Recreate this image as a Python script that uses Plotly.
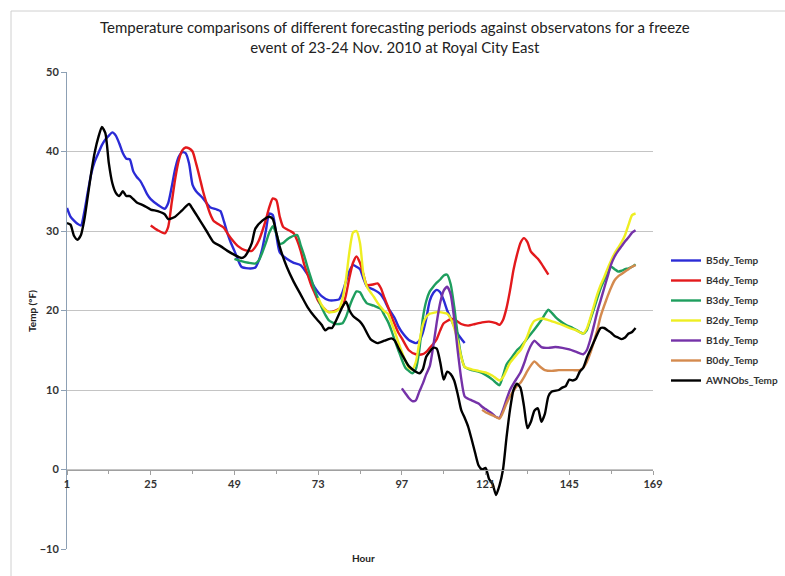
import plotly.graph_objects as go

# ---------------- data (hour, temperature °F) ----------------
b5_hours = [1,2,3,4,5,6,7,8,9,10,11,12,13,14,15,16,17,18,19,20,21,22,23,24,25,27,29,30,31,32,33,34,35,36,37,38,40,42,44,45,46,47,48,49,50,51,53,55,56,57,58,59,60,61,62,64,66,68,70,72,74,76,78,79,80,81,82,83,84,85,86,87,89,91,92,93,95,96,97,99,101,102,103,104,105,106,107,108,109,110,111,113,115]
b5_temps = [32.9,31.8,31.3,30.9,30.7,32.5,35,37.3,38.8,39.8,40.8,41.5,42,42.4,42,41,39.8,39.1,39,37.5,36.8,36.3,35.5,34.6,34,33.3,32.8,33.5,35.5,37.8,39.3,39.9,39.8,38.5,35.8,35,34.1,33,32.7,32.5,31.2,29.7,28.5,27.5,26.4,25.5,25.3,25.4,26.3,27.8,30,32.2,32,29.5,27.3,26.5,26,25.7,24.5,22.9,21.8,21.3,21.3,21.4,22.3,23.7,25,25.7,25.5,25.2,24,23,22.6,22,21.3,20.4,19,18,17.3,16.3,15.9,16.2,17.2,19,21.2,22.2,22.6,22.3,21.3,20,19,17.1,15.9]

b4_hours = [25,27,29,30,31,32,33,34,35,36,37,38,39,40,41,42,43,45,46,47,48,50,52,54,55,56,57,58,59,60,61,62,63,65,66,67,68,69,70,71,72,73,74,76,78,80,81,82,83,84,85,86,87,89,90,91,92,93,94,95,96,97,99,101,103,104,105,106,107,108,109,111,112,114,116,118,120,122,124,125,126,127,128,129,130,131,132,133,134,136,137,138,139]
b4_temps = [30.7,30.1,29.7,30.5,33.5,36.5,38.8,40.1,40.5,40.4,40,38.5,36.8,35,33.5,32.2,31.3,30.7,30.4,29.7,29.1,28.1,27.6,27.5,28,28.8,30,31.4,33,34.1,33.9,31.8,30.5,30,29.7,28.8,27.5,25.8,24.5,23.2,22.2,21.2,20.6,19.8,20,20.5,22,24.2,26,26.8,26,24.5,23.2,23.3,23.4,22.8,21.6,20.5,19.3,18.2,17.2,16.5,15,14.5,14.5,14.8,15.3,15.8,16.4,17.5,18.4,18.9,18.9,18.3,18.1,18.3,18.5,18.6,18.4,18.2,18.8,20.3,22.5,25.1,27,28.5,29.1,28.6,27.4,26.5,25.9,25.2,24.5]

b3_hours = [49,51,53,55,56,57,58,59,60,61,62,63,64,65,67,68,69,70,71,72,73,74,75,76,78,80,81,82,83,84,85,86,87,89,91,92,93,94,95,96,97,98,99,100,101,102,103,104,105,106,107,108,109,110,111,112,113,114,115,117,119,121,123,124,125,126,127,128,129,130,131,133,135,137,139,140,141,142,144,146,148,149,150,151,152,153,154,155,156,157,158,159,160,161,162,163,164]
b3_temps = [26.5,26.2,26,25.9,26.3,27.3,28.5,29.8,30.6,29.7,28.4,28.5,28.9,29.2,29.5,28.2,26.9,25.4,24,22.6,21.5,20.4,19.5,18.8,18.3,18.4,19.2,20.5,21.6,22.4,22.3,21.5,20.9,20.6,20.2,19.4,18.6,17.5,16.2,15,13.8,12.8,12.4,12.1,12.6,15,19,21.2,22.4,23,23.5,23.9,24.4,24.5,23.3,20.5,17,14.3,12.9,12.5,12.3,11.9,11.3,10.9,10.6,11.8,13.2,13.8,14.4,15,15.4,16.5,17.6,18.8,20.1,19.7,19.2,18.8,18.2,17.8,17.3,17.1,17.5,18.8,20.1,21.5,22.8,23.8,24.7,25.5,25.2,24.9,25,25.2,25.3,25.5,25.8]

b2_hours = [73,74,75,76,77,78,79,80,81,82,83,84,85,86,87,88,89,90,91,92,93,94,95,96,97,98,99,100,101,102,103,104,105,106,107,108,109,110,111,112,113,114,115,117,119,121,123,125,126,127,128,130,131,133,134,135,137,139,141,143,145,147,149,150,151,152,153,154,155,156,157,158,159,160,161,162,163,164]
b2_temps = [21.6,20.7,20.1,19.8,19.8,19.9,20.2,21.5,24,27.5,29.8,30,28.5,24.5,23,22.3,21.7,21,20.4,19.9,19.6,18.5,17.3,16,14.8,13.7,12.8,12.6,13.5,16,18.2,19.2,19.6,19.7,19.8,19.8,19.7,19.6,19,17.8,16.2,14.2,12.9,12.6,12.4,12.2,11.8,11.2,11.6,12.5,13.4,14.5,15,16.8,18,18.7,19,18.8,18.5,18.2,17.8,17.5,17.1,17.7,19,20.5,22,23.2,24.2,25.3,26.3,27.2,27.9,28.6,29.5,30.8,32,32.2]

b1_hours = [97,98,99,100,101,102,103,104,105,106,107,108,109,110,111,112,113,114,115,116,117,118,119,120,121,122,123,124,125,126,127,128,129,130,131,132,133,134,135,136,137,139,141,143,145,147,149,150,151,152,153,154,155,156,157,158,159,160,161,162,163,164]
b1_temps = [10.2,9.6,9,8.6,8.7,9.8,10.8,12,13,15.5,18.5,21,22.5,23,22,19,15,11.5,9.2,8.9,8.7,8.5,8.3,7.9,7.6,7.3,7,6.6,6.5,7.5,8.8,10,10.8,11.5,12.2,13.3,14.6,15.6,16.2,15.8,15.4,15.3,15.4,15.3,15.1,14.8,14.5,15,16.3,18,19.8,21.3,22.8,24.3,25.8,26.8,27.5,28.1,28.7,29.2,29.8,30.1]

b0_hours = [120,121,122,123,124,125,126,127,128,129,130,131,132,133,134,135,136,137,138,140,142,144,146,148,149,150,151,152,153,154,155,156,157,158,159,160,161,162,163,164]
b0_temps = [7.5,7.2,7,6.8,6.6,6.4,7.2,8.3,9.2,9.9,10.5,10.9,11.6,12.4,13.1,13.6,13.2,12.8,12.5,12.4,12.5,12.5,12.5,12.5,12.8,13.5,14.6,16,17.5,19.3,20.6,21.8,22.9,23.8,24.3,24.6,24.9,25.2,25.5,25.7]

obs_hours = [1,2,3,4,5,6,7,8,9,10,11,12,13,14,15,16,17,18,19,21,23,25,27,29,30,32,34,36,37,39,41,43,45,47,49,51,52,53,54,55,57,59,60,61,62,64,66,68,70,72,74,75,76,77,78,80,81,82,83,85,86,88,90,92,94,95,96,97,99,101,102,103,104,106,107,108,109,110,111,112,113,114,115,116,117,118,119,120,121,122,123,124,125,126,127,128,129,130,131,132,133,134,135,136,137,138,139,140,142,143,144,145,146,147,148,149,150,151,152,153,154,155,156,157,158,159,160,161,162,163,164]
obs_temps = [31,30.8,29.4,28.9,29.5,31.5,34.5,37.5,40,41.8,43.1,42.3,38.5,36,34.8,34.4,35,34.4,34.4,33.6,33.2,32.7,32.5,32.1,31.5,31.8,32.6,33.4,32.8,31.4,30,28.6,28.1,27.5,27,26.6,26.8,27.5,28.5,30.3,31.3,31.8,31.5,29.8,28,25.5,23.6,22,20.4,19.2,18.2,17.5,17.8,17.8,18.6,20.5,21.1,20,19.3,18.6,18,16.4,15.9,16.2,16.5,16.2,15.3,14.5,13,12.3,12.1,12.6,14.2,15.3,15.2,13.5,11.3,12.3,12,11.2,9.5,7.5,6.5,5.4,3.8,2.1,0.5,0,0.2,-1.2,-1.8,-3.2,-2,0,4,7.5,10,10.8,10.3,8,5.2,6,7.4,7.7,6,7,9.2,9.8,10,10.3,10.5,11.3,11.2,11.4,12.3,12.8,14,15,16,17,17.8,17.8,17.5,17.2,16.8,16.6,16.4,16.6,17.1,17.3,17.8]

series_names = ["B5dy_Temp", "B4dy_Temp", "B3dy_Temp", "B2dy_Temp", "B1dy_Temp", "B0dy_Temp", "AWNObs_Temp"]
series_hours = [b5_hours, b4_hours, b3_hours, b2_hours, b1_hours, b0_hours, obs_hours]
series_temps = [b5_temps, b4_temps, b3_temps, b2_temps, b1_temps, b0_temps, obs_temps]
series_colors = ["#2B2BD6", "#E3191C", "#1E9E5E", "#EEEE22", "#7532A8", "#D48A4E", "#000000"]

x_ticks = [1, 25, 49, 73, 97, 121, 145, 169]
x_minor = [13, 37, 61, 85, 109, 133, 157]
y_ticks = [-10, 0, 10, 20, 30, 40, 50]

title_text = ("Temperature comparisons of different forecasting periods against observatons for a freeze"
              "<br>event of 23-24 Nov. 2010 at Royal City East")

# ---------------- figure ----------------
W, H = 785, 576
ML, MR, MT, MB = 67, 132, 72, 27
PW, PH = W - ML - MR, H - MT - MB

def px(xp):
    return (xp - ML) / PW

def py(yp):
    return 1 - (yp - MT) / PH

FONT = "Lato, 'Open Sans', sans-serif"

fig = go.Figure()
for name, hx, ty, col in zip(series_names, series_hours, series_temps, series_colors):
    fig.add_trace(go.Scatter(
        x=hx, y=ty, name=name, mode="lines", legendgroup=name,
        line=dict(color=col, width=2.4, shape="spline", smoothing=0.6),
    ))

fig.update_layout(
    width=W, height=H,
    margin=dict(l=ML, r=MR, t=MT, b=MB, pad=0, autoexpand=False),
    paper_bgcolor="white", plot_bgcolor="white",
    font=dict(family=FONT, size=11, color="#333333"),
    title=dict(text=title_text, x=0.503, xanchor="center", y=1 - 33 / H, yanchor="middle",
               yref="container", font=dict(family=FONT, size=15, color="#222222")),
    showlegend=True,
    legend=dict(x=px(666), xanchor="left", y=py(246), yanchor="top",
                font=dict(family=FONT, size=10, color="#333333", weight=700),
                bgcolor="rgba(0,0,0,0)", itemwidth=30, tracegroupgap=1),
    xaxis=dict(range=[1, 169], tickvals=x_ticks, ticktext=[str(v) for v in x_ticks],
               anchor="free", position=10 / 60, showline=True, linecolor="#A0A0A0", linewidth=1,
               ticks="outside", ticklen=4, tickcolor="#A0A0A0", showgrid=False, zeroline=False,
               minor=dict(tickvals=x_minor, ticks="outside", ticklen=3, tickcolor="#A0A0A0"),
               tickfont=dict(family=FONT, size=11, color="#333333", weight=700)),
    yaxis=dict(range=[-10, 50], tickvals=y_ticks, showgrid=True, gridcolor="#C4C4C4", gridwidth=1,
               showline=True, linecolor="#8DA0B4", linewidth=1, ticks="outside", ticklen=5,
               tickcolor="#8DA0B4", zeroline=False,
               tickfont=dict(family=FONT, size=11, color="#333333", weight=700)),
    annotations=[
        dict(text="Temp (°F)", x=px(32), y=py(311), xref="paper", yref="paper", showarrow=False,
             xanchor="center", yanchor="middle", textangle=-90,
             font=dict(family=FONT, size=10, color="#222222", weight=700)),
        dict(text="Hour", x=px(363), y=py(558), xref="paper", yref="paper", showarrow=False,
             xanchor="center", yanchor="middle",
             font=dict(family=FONT, size=10, color="#222222", weight=700)),
    ],
    shapes=[
        dict(type="path", xref="paper", yref="paper",
             path=f"M {px(11)} {py(590)} L {px(11)} {py(11)} L {px(800)} {py(11)}",
             line=dict(color="#D0D0D0", width=1)),
    ],
)

fig.write_html("out.html")
